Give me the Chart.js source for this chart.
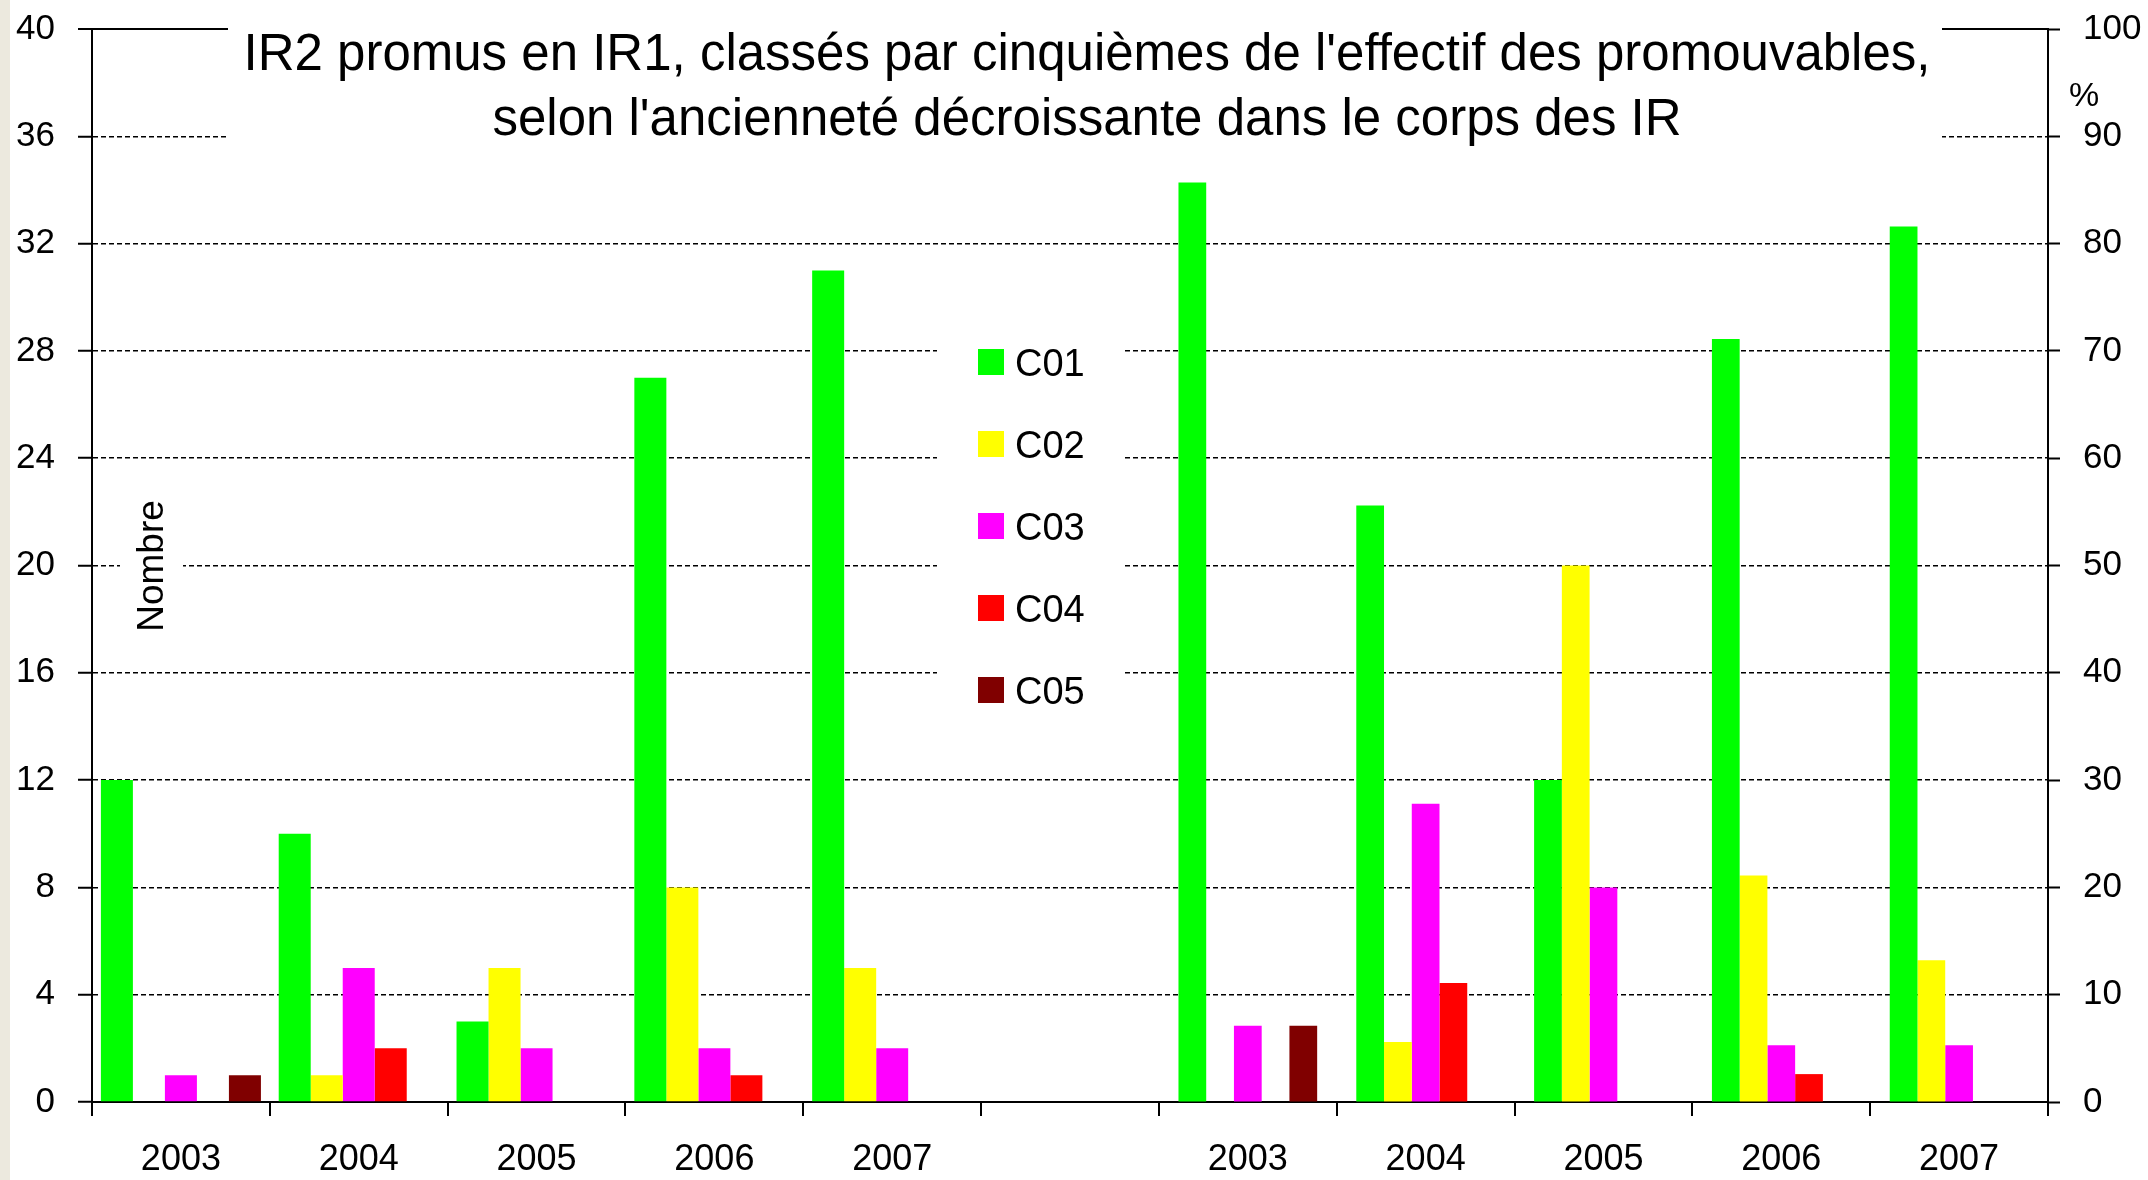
<!DOCTYPE html>
<html>
<head>
<meta charset="utf-8">
<script src="https://cdn.jsdelivr.net/npm/chart.js@4.4.0/dist/chart.umd.min.js"></script>
<style>
  html, body { margin: 0; padding: 0; overflow: hidden; }
  body { background: linear-gradient(to right, #ECE9DE 0, #ECE9DE 10px, #fff 10px); }
  #wrap { position: relative; width: 2148px; height: 1180px; }
</style>
</head>
<body>
<div id="wrap"><canvas id="promoChart"></canvas></div>
<script>
// Chart data
const years = ['2003', '2004', '2005', '2006', '2007'];
const categories = [...years, '', ...years];
const seriesNames = ['C01', 'C02', 'C03', 'C04', 'C05'];
const seriesColors = ['#00FF00', '#FFFF00', '#FF00FF', '#FF0000', '#800000'];

// left block: number of promoted (left axis)
const c01Nombre = [12, 10, 3, 27, 31];
const c02Nombre = [0, 1, 5, 8, 5];
const c03Nombre = [1, 5, 2, 2, 2];
const c04Nombre = [0, 2, 0, 1, 0];
const c05Nombre = [1, 0, 0, 0, 0];

// right block: percentages (right axis)
const c01Pct = [85.7, 55.6, 30, 71.1, 81.6];
const c02Pct = [0, 5.6, 50, 21.1, 13.2];
const c03Pct = [7.1, 27.8, 20, 5.3, 5.3];
const c04Pct = [0, 11.1, 0, 2.6, 0];
const c05Pct = [7.1, 0, 0, 0, 0];

const leftTicks = [0, 4, 8, 12, 16, 20, 24, 28, 32, 36, 40];
const rightTicks = [0, 10, 20, 30, 40, 50, 60, 70, 80, 90, 100];

const titleLines = [
  "IR2 promus en IR1, classés par cinquièmes de l'effectif des promouvables,",
  "selon l'ancienneté décroissante dans le corps des IR"
];

const FONT = '"Liberation Sans", Arial, sans-serif';
Chart.defaults.font.family = FONT;
Chart.defaults.color = '#000';

const nombreSeries = [c01Nombre, c02Nombre, c03Nombre, c04Nombre, c05Nombre];
const pctSeries = [c01Pct, c02Pct, c03Pct, c04Pct, c05Pct];
const gap = years.map(() => null);

const datasets = [];
nombreSeries.forEach((vals, i) => {
  datasets.push({
    label: seriesNames[i],
    data: [...vals, null, ...gap],
    backgroundColor: seriesColors[i],
    yAxisID: 'y',
    stack: 's' + i,
    categoryPercentage: 0.9,
    barPercentage: 1
  });
});
pctSeries.forEach((vals, i) => {
  datasets.push({
    label: seriesNames[i] + ' %',
    data: [...gap, null, ...vals],
    backgroundColor: seriesColors[i],
    yAxisID: 'y1',
    stack: 's' + i,
    categoryPercentage: 0.78,
    barPercentage: 1
  });
});

// title, inner legend and axis captions drawn over the plot
const overlayPlugin = {
  id: 'overlays',
  afterDraw(chart) {
    const c = chart.ctx;
    c.save();

    // title block
    c.fillStyle = '#fff';
    c.fillRect(228, 6, 1714, 168);
    c.fillStyle = '#000';
    c.font = '51px ' + FONT;
    c.textAlign = 'center';
    c.textBaseline = 'alphabetic';
    c.fillText(titleLines[0], 1087, 70);
    c.fillText(titleLines[1], 1087, 135);

    // legend
    c.fillStyle = '#fff';
    c.fillRect(937, 295, 188, 435);
    c.font = '38px ' + FONT;
    c.textAlign = 'left';
    chart.data.datasets.slice(0, 5).forEach((ds, i) => {
      const cy = 362 + i * 82;
      c.fillStyle = ds.backgroundColor;
      c.fillRect(978, cy - 13, 26, 26);
      c.fillStyle = '#000';
      c.fillText(ds.label, 1015, cy + 14);
    });

    // "Nombre" caption
    c.fillStyle = '#fff';
    c.fillRect(120, 490, 63, 152);
    c.fillStyle = '#000';
    c.font = '37px ' + FONT;
    c.translate(163, 566);
    c.rotate(-Math.PI / 2);
    c.textAlign = 'center';
    c.fillText('Nombre', 0, 0);
    c.setTransform(1, 0, 0, 1, 0, 0);

    // "%" caption
    c.font = '34px ' + FONT;
    c.textAlign = 'center';
    c.fillText('%', 2084, 106);

    c.restore();
  }
};

const ctx = document.getElementById('promoChart').getContext('2d');
const promoChart = new Chart(ctx, {
  type: 'bar',
  data: { labels: categories, datasets: datasets },
  options: {
    responsive: true,
    maintainAspectRatio: false,
    animation: false,
    layout: { padding: { top: 29, left: 0, right: 0, bottom: 0 } },
    plugins: {
      legend: { display: false },
      tooltip: { enabled: false },
      title: { display: false }
    },
    scales: {
      x: {
        type: 'category',
        offset: true,
        grid: { offset: true, drawOnChartArea: false, tickLength: 14, color: '#000', lineWidth: 2 },
        border: { display: true, color: '#000', width: 2 },
        ticks: { font: { size: 36 }, color: '#000', padding: 22, autoSkip: false, maxRotation: 0 },
        afterFit(scale) {
          scale.height = 78;
          scale.paddingLeft = 0;
          scale.paddingRight = 0;
        }
      },
      y: {
        position: 'left',
        min: 0,
        max: 40,
        stacked: false,
        afterBuildTicks(scale) { scale.ticks = leftTicks.map(v => ({ value: v })); },
        grid: {
          color: '#000',
          lineWidth: c => (c.tick && c.tick.value === 40) ? 2 : 1.5,
          tickLength: 14,
          tickWidth: 2
        },
        border: {
          display: true, color: '#000', width: 2,
          dash: c => (c.tick && (c.tick.value === 40 || c.tick.value === 0)) ? [] : [5, 3]
        },
        ticks: { font: { size: 35 }, color: '#000', padding: 23 },
        afterFit(scale) {
          scale.width = 92;
          scale.paddingTop = 0;
          scale.paddingBottom = 0;
        }
      },
      y1: {
        position: 'right',
        min: 0,
        max: 100,
        stacked: false,
        afterBuildTicks(scale) { scale.ticks = rightTicks.map(v => ({ value: v })); },
        grid: { drawOnChartArea: false, color: '#000', tickLength: 12, tickWidth: 2 },
        border: { display: true, color: '#000', width: 2 },
        ticks: { font: { size: 35 }, color: '#000', padding: 23 },
        afterFit(scale) {
          scale.width = 100;
          scale.paddingTop = 0;
          scale.paddingBottom = 0;
        }
      }
    }
  },
  plugins: [overlayPlugin]
});
</script>
</body>
</html>
